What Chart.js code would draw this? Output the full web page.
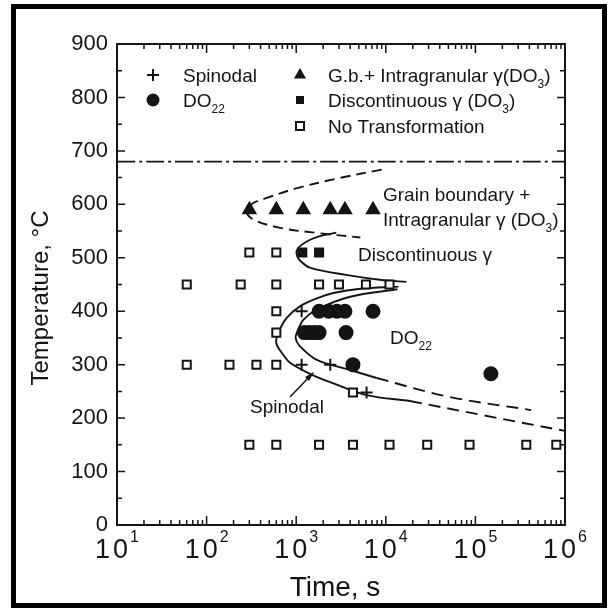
<!DOCTYPE html>
<html>
<head>
<meta charset="utf-8">
<script src="https://cdn.jsdelivr.net/npm/chart.js@4.4.1/dist/chart.umd.min.js"></script>
<style>
    html, body { margin: 0; padding: 0; background: #fff; }
</style>
</head>
<body>
<canvas id="myChart" width="611" height="615"></canvas>
<script>
// measured points (time in s, temperature in C)
const noTransX = [300, 600, 60, 240, 600, 1800, 3000, 6000, 11000, 600, 600, 60, 180, 360, 600, 4300, 300, 600, 1800, 4300, 11000, 29000, 86000, 370000, 800000];
const noTransY = [510, 510, 450, 450, 450, 450, 450, 450, 450, 400, 360, 300, 300, 300, 300, 248, 150, 150, 150, 150, 150, 150, 150, 150, 150];
const discX = [1170, 1800];
const discY = [510, 510];
const gbX = [300, 600, 1200, 2400, 3500, 7200];
const gbY = [590, 590, 590, 590, 590, 590];
const spinX = [1150, 1150, 2400, 6100];
const spinY = [400, 300, 300, 248];
const do22X = [1800, 2300, 2850, 3500, 7200, 1230, 1400, 1600, 1800, 3600, 4300, 149000];
const do22Y = [400, 400, 400, 400, 400, 360, 360, 360, 360, 360, 300, 283];

// transformation curves
const gbCurveX = [9000, 3000, 1000, 470, 330, 278, 330, 660, 1800, 5200];
const gbCurveY = [665, 649, 630, 612, 602, 588, 572, 556, 546, 538];
const discCurveX = [2800, 1800, 1300, 1050, 1010, 1100, 1450, 3600, 9400, 17000];
const discCurveY = [547, 540, 530, 518, 507, 495, 481, 468, 458, 455];
const outerSolidX = [13800, 5200, 2600, 1700, 1100, 780, 630, 600, 720, 860, 1500, 2600, 6100, 18600];
const outerSolidY = [446, 442, 434, 424, 409, 387, 359, 340, 318, 303, 281, 265, 243, 232];
const outerDashX = [18600, 125000, 1000000];
const outerDashY = [232, 205, 176];
const innerSolidX = [13500, 4000, 1700, 1200, 1030, 985, 1080, 1700, 4000, 7900];
const innerSolidY = [441, 427, 403, 384, 362, 350, 336, 309, 290, 275];
const innerDashX = [7900, 50000, 420000];
const innerDashY = [275, 240, 215];
const solvusX = [10, 1000000];
const solvusY = [680, 680];

const decades = [1, 2, 3, 4, 5, 6];

const ink = '#141414';
const fam = '"Liberation Sans", Arial, Helvetica, sans-serif';

function pts(xs, ys) {
    return xs.map((x, i) => ({ x: x, y: ys[i] }));
}

function markerSet(xs, ys, style, radius, fill) {
    return {
        data: pts(xs, ys),
        pointStyle: style,
        pointRadius: radius,
        pointBorderWidth: 2,
        pointBackgroundColor: fill,
        pointBorderColor: ink,
        showLine: false
    };
}

function curveSet(xs, ys, dash) {
    return {
        data: pts(xs, ys),
        showLine: true,
        pointRadius: 0,
        borderColor: ink,
        borderWidth: 1.9,
        borderDash: dash,
        tension: 0.35,
        fill: false
    };
}

// text with sub/superscripts: parts = [[text, 0 normal | 1 sub | -1 sup]]
function richText(ctx, parts, x, y, size) {
    let cx = x;
    parts.forEach(p => {
        const small = p[1] !== 0;
        ctx.font = (small ? Math.round(size * 0.62) : size) + 'px ' + fam;
        const dy = p[1] === 1 ? size * 0.3 : (p[1] === -1 ? -size * 0.55 : 0);
        ctx.fillText(p[0], cx, y + dy);
        cx += ctx.measureText(p[0]).width;
    });
}

function marker(ctx, style, x, y) {
    ctx.save();
    ctx.fillStyle = ink;
    ctx.strokeStyle = ink;
    ctx.lineWidth = 2;
    ctx.beginPath();
    if (style === 'cross') {
        ctx.moveTo(x - 6, y); ctx.lineTo(x + 6, y);
        ctx.moveTo(x, y - 6); ctx.lineTo(x, y + 6);
        ctx.stroke();
    } else if (style === 'circle') {
        ctx.arc(x, y, 6.5, 0, Math.PI * 2);
        ctx.fill();
    } else if (style === 'triangle') {
        const r = 7;
        for (let k = 0; k < 3; k++) {
            const a = k * 2 * Math.PI / 3;
            ctx.lineTo(x + Math.sin(a) * r, y - Math.cos(a) * r);
        }
        ctx.closePath();
        ctx.fill();
    } else if (style === 'rect') {
        ctx.rect(x - 4, y - 4, 8, 8);
        ctx.fill();
    } else {
        ctx.fillStyle = '#fff';
        ctx.rect(x - 4, y - 4, 8, 8);
        ctx.fill();
        ctx.stroke();
    }
    ctx.restore();
}

const decor = {
    id: 'decor',
    afterDraw(chart) {
        const ctx = chart.ctx;
        const a = chart.chartArea;
        const xs = chart.scales.x;
        const ys = chart.scales.y;
        ctx.save();
        ctx.strokeStyle = ink;
        ctx.fillStyle = ink;

        // plot frame
        ctx.lineWidth = 2;
        ctx.strokeRect(a.left, a.top, a.right - a.left, a.bottom - a.top);

        // inward ticks
        ctx.lineWidth = 1.5;
        ctx.beginPath();
        for (let v = 0; v <= 900; v += 50) {
            const py = ys.getPixelForValue(v);
            const len = v % 100 === 0 ? 8 : 5;
            ctx.moveTo(a.left, py); ctx.lineTo(a.left + len, py);
            ctx.moveTo(a.right, py); ctx.lineTo(a.right - len, py);
        }
        for (let d = 1; d <= 5; d++) {
            for (let m = 1; m <= 9; m++) {
                const px = xs.getPixelForValue(m * Math.pow(10, d));
                const len = m === 1 ? 9 : 5;
                ctx.moveTo(px, a.bottom); ctx.lineTo(px, a.bottom - len);
                ctx.moveTo(px, a.top); ctx.lineTo(px, a.top + len);
            }
        }
        ctx.stroke();

        // x tick labels 10^k
        ctx.textBaseline = 'alphabetic';
        ctx.textAlign = 'left';
        decades.forEach(k => {
            const px = xs.getPixelForValue(Math.pow(10, k));
            ctx.font = '27px ' + fam;
            const w1 = ctx.measureText('1').width;
            ctx.font = '16px ' + fam;
            const ws = ctx.measureText(String(k)).width;
            const total = w1 * 2 + 3 + ws + 2;
            let cx = px - total / 2;
            ctx.font = '27px ' + fam;
            ctx.fillText('1', cx, 558);
            ctx.fillText('0', cx + w1 + 3, 558);
            ctx.font = '16px ' + fam;
            ctx.fillText(String(k), cx + 2 * w1 + 5, 542);
        });

        // axis titles
        ctx.textAlign = 'center';
        ctx.font = '28px ' + fam;
        ctx.fillText('Time, s', 335, 596);
        ctx.save();
        ctx.translate(48, 298);
        ctx.rotate(-Math.PI / 2);
        ctx.font = '24px ' + fam;
        ctx.fillText('Temperature, \u00B0C', 0, 0);
        ctx.restore();

        // legend
        ctx.textAlign = 'left';
        const fs = 19;
        marker(ctx, 'cross', 153, 75);
        richText(ctx, [['Spinodal', 0]], 183, 82, fs);
        marker(ctx, 'circle', 153, 100);
        richText(ctx, [['DO', 0], ['22', 1]], 183, 107, fs);
        marker(ctx, 'triangle', 300, 75);
        richText(ctx, [['G.b.+ Intragranular \u03B3(DO', 0], ['3', 1], [')', 0]], 328, 82, fs);
        marker(ctx, 'rect', 300, 100);
        richText(ctx, [['Discontinuous \u03B3 (DO', 0], ['3', 1], [')', 0]], 328, 107, fs);
        marker(ctx, 'open', 300, 126);
        richText(ctx, [['No Transformation', 0]], 328, 133, fs);

        // region labels
        richText(ctx, [['Grain boundary +', 0]], 383, 201, fs);
        richText(ctx, [['Intragranular \u03B3 (DO', 0], ['3', 1], [')', 0]], 383, 226, fs);
        richText(ctx, [['Discontinuous \u03B3', 0]], 358, 261, fs);
        richText(ctx, [['DO', 0], ['22', 1]], 390, 344, fs);
        richText(ctx, [['Spinodal', 0]], 250, 413, fs);

        // arrow to spinodal curve
        ctx.lineWidth = 1.5;
        ctx.beginPath();
        ctx.moveTo(290, 397);
        ctx.lineTo(313, 373);
        ctx.stroke();
        ctx.beginPath();
        ctx.moveTo(314, 372);
        ctx.lineTo(305, 377);
        ctx.lineTo(309, 381);
        ctx.closePath();
        ctx.fill();

        // outer border of the figure
        ctx.lineWidth = 5;
        ctx.strokeStyle = '#000';
        ctx.strokeRect(13.5, 6.5, 591, 599);
        ctx.restore();
    }
};

const datasets = [
    markerSet(spinX, spinY, 'cross', 6, ink),
    markerSet(do22X, do22Y, 'circle', 6.5, ink),
    markerSet(gbX, gbY, 'triangle', 7, ink),
    markerSet(discX, discY, 'rect', 5.7, ink),
    markerSet(noTransX, noTransY, 'rect', 5.7, '#fff'),
    curveSet(gbCurveX, gbCurveY, [10, 6]),
    curveSet(discCurveX, discCurveY, []),
    curveSet(outerSolidX, outerSolidY, []),
    curveSet(outerDashX, outerDashY, [12, 7]),
    curveSet(innerSolidX, innerSolidY, []),
    curveSet(innerDashX, innerDashY, [12, 7]),
    curveSet(solvusX, solvusY, [18, 4, 3, 4])
];

const config = {
    type: 'scatter',
    data: { datasets: datasets },
    options: {
        responsive: false,
        animation: false,
        layout: { padding: { top: 44, right: 46, bottom: 0, left: 0 } },
        plugins: {
            legend: { display: false },
            tooltip: { enabled: false }
        },
        scales: {
            x: {
                type: 'logarithmic',
                min: 10,
                max: 1000000,
                grid: { display: false, drawTicks: false },
                border: { display: false },
                ticks: { display: false },
                afterFit: s => { s.height = 90; }
            },
            y: {
                min: 0,
                max: 900,
                grid: { display: false, drawTicks: false },
                border: { display: false },
                ticks: {
                    stepSize: 100,
                    padding: 9,
                    color: ink,
                    font: { size: 22, family: fam }
                },
                afterFit: s => { s.width = 117; }
            }
        }
    },
    plugins: [decor]
};

const myChart = new Chart(document.getElementById('myChart'), config);
</script>
</body>
</html>
